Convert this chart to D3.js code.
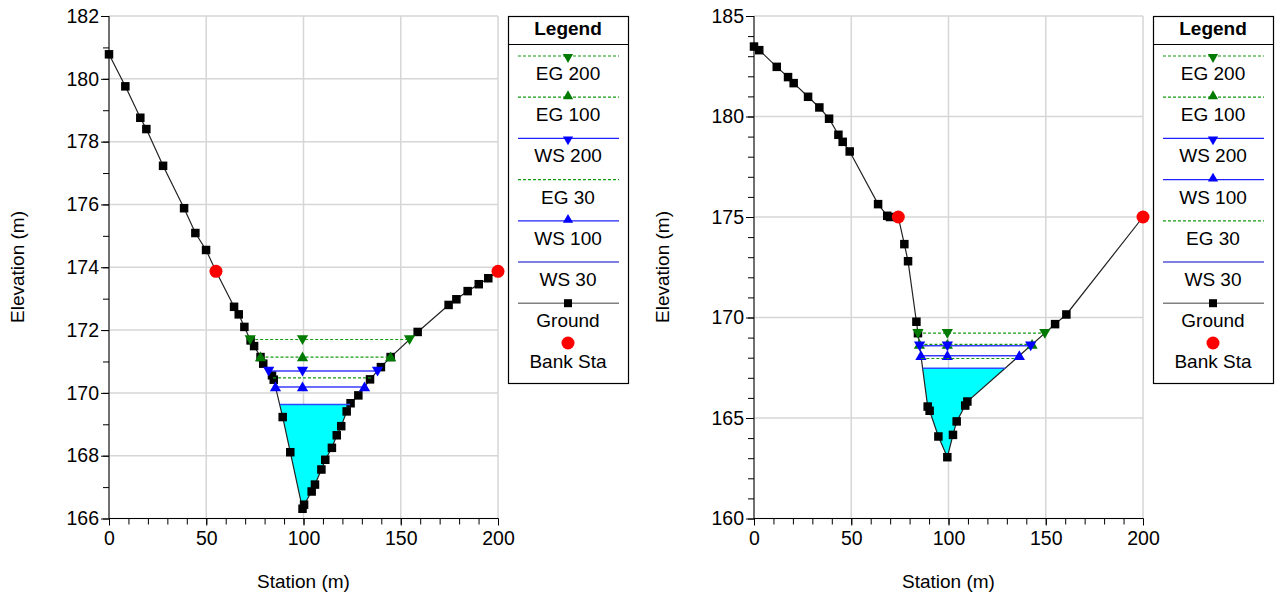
<!DOCTYPE html>
<html><head><meta charset="utf-8">
<script src="https://cdn.jsdelivr.net/npm/d3@7"></script>
<style>
body{margin:0;background:#fff;}
svg text{font-family:"Liberation Sans",Arial,sans-serif;fill:#000;}
</style></head>
<body><svg id="c" width="1275" height="594"></svg>
<script>
// ---------- DATA ----------
const xTicks = [0, 50, 100, 150, 200];

// Left cross-section
const stationL = [0,8.4,16.1,19.2,27.8,38.6,44.4,49.9,55,64.3,66.7,69.6,72.8,74.6,77.9,79.3,83.8,84.7,89.3,93.2,99.5,100.3,104.2,105.9,109.2,111.2,114.6,117.1,119.4,122.2,124.2,128.2,134.2,139.8,144.8,158.7,174.6,178.6,184.4,190.1,195.0,200];
const groundL  = [180.78,179.76,178.76,178.40,177.23,175.88,175.09,174.55,173.87,172.74,172.50,172.10,171.67,171.49,171.14,170.93,170.56,170.42,169.23,168.11,166.31,166.44,166.86,167.08,167.56,167.87,168.25,168.65,168.94,169.41,169.67,169.92,170.43,170.82,171.14,171.94,172.80,172.98,173.24,173.46,173.65,173.87];
const bankStaL = [55, 200];
const bankElL  = [173.87, 173.87];
const yTicksL  = [166,168,170,172,174,176,178,180,182];
const profilesL = ["EG 200","EG 100","WS 200","EG 30","WS 100","WS 30"];
const levelsL   = [171.70, 171.14, 170.70, 170.48, 170.19, 169.63];

// Right cross-section
const stationR = [0,2.7,11.7,17.5,20.4,27.8,33.6,38.6,43.4,45.6,49.2,63.8,68.5,69.9,74.2,77.3,79.2,83.5,84.3,89.3,90.3,94.8,99.4,102.3,104.2,108.6,109.7,154.8,160.6,200];
const groundR  = [183.48,183.30,182.47,181.96,181.66,180.98,180.45,179.89,179.09,178.74,178.26,175.64,175.06,175.0,175.0,173.65,172.80,169.79,169.22,165.57,165.36,164.08,163.05,164.16,164.83,165.62,165.82,169.67,170.15,175.0];
const bankStaR = [74.2, 200];
const bankElR  = [175.0, 175.0];
const yTicksR  = [160,165,170,175,180,185];
const profilesR = ["EG 200","EG 100","WS 200","WS 100","EG 30","WS 30"];
const levelsR   = [169.22, 168.66, 168.60, 168.10, 167.96, 167.48];

// ---------- STYLES ----------
const styles = {
  "EG 200": {stroke:"#139a13", dash:"3,2", width:1.2, marker:"down", fill:"#007a00"},
  "EG 100": {stroke:"#139a13", dash:"3,2", width:1.2, marker:"up",   fill:"#007a00"},
  "WS 200": {stroke:"#3a3aff", dash:null,  width:1.5, marker:"down", fill:"#0000ff"},
  "WS 100": {stroke:"#3a3aff", dash:null,  width:1.5, marker:"up",   fill:"#0000ff"},
  "EG 30":  {stroke:"#139a13", dash:"3,2", width:1.2, marker:null},
  "WS 30":  {stroke:"#2a4cff", dash:null,  width:1.5, marker:null}
};
const legendStyles = {
  "WS 200": "#2020ff", "WS 100": "#2020ff", "WS 30": "#0000c0"
};

const svg = d3.select("#c");

function crossing(st, el, level) {
  let im = d3.minIndex(el);
  let i = im; while (i > 0 && el[i] < level) i--;
  const xl = st[i] + (level - el[i]) * (st[i+1] - st[i]) / (el[i+1] - el[i]);
  let j = im; while (j < el.length - 1 && el[j] < level) j++;
  const xr = st[j-1] + (level - el[j-1]) * (st[j] - st[j-1]) / (el[j] - el[j-1]);
  return {xl, xr, il: i, ir: j, im};
}

function panel(cfg) {
  const x = d3.scaleLinear().domain([0,200]).range([cfg.x0, cfg.x1]);
  const y = d3.scaleLinear().domain(cfg.yDomain).range([518.5, 16]);
  const g = svg.append("g");

  // grid
  g.selectAll(".gx").data(xTicks).join("line")
    .attr("x1", d=>x(d)).attr("x2", d=>x(d)).attr("y1", y.range()[0]).attr("y2", y.range()[1])
    .attr("stroke", "#d6d6d6").attr("stroke-width", 1.5);
  g.selectAll(".gy").data(cfg.yTicks).join("line")
    .attr("x1", x(0)).attr("x2", x(200)).attr("y1", d=>y(d)).attr("y2", d=>y(d))
    .attr("stroke", "#d6d6d6").attr("stroke-width", 1.5);

  // water fill (lowest WS)
  const wsLow = cfg.levels[cfg.profiles.indexOf("WS 30")];
  const c = crossing(cfg.st, cfg.el, wsLow);
  const poly = [[c.xl, wsLow]];
  for (let k = c.il + 1; k < c.ir; k++) poly.push([cfg.st[k], cfg.el[k]]);
  poly.push([c.xr, wsLow]);
  g.append("path").datum(poly)
    .attr("d", d3.line().x(d=>x(d[0])).y(d=>y(d[1])))
    .attr("fill", "#00ffff").attr("stroke", "none");

  // ground line
  g.append("path").datum(cfg.st.map((s,i)=>[s, cfg.el[i]]))
    .attr("d", d3.line().x(d=>x(d[0])).y(d=>y(d[1])))
    .attr("fill", "none").attr("stroke", "#222").attr("stroke-width", 1.2);
  g.selectAll(".sq").data(cfg.st.map((s,i)=>[s, cfg.el[i]])).join("rect")
    .attr("x", d=>x(d[0]) - 4.25).attr("y", d=>y(d[1]) - 4.25)
    .attr("width", 8.5).attr("height", 8.5).attr("fill", "#000");

  // water surface lines
  cfg.profiles.forEach((p, i) => {
    const lv = cfg.levels[i];
    const s = styles[p];
    const cr = crossing(cfg.st, cfg.el, lv);
    g.append("line")
      .attr("x1", x(cr.xl)).attr("x2", x(cr.xr)).attr("y1", y(lv)).attr("y2", y(lv))
      .attr("stroke", s.stroke).attr("stroke-width", s.width)
      .attr("stroke-dasharray", s.dash);
    if (s.marker) {
      const pts = [cr.xl, cfg.st[cr.im], cr.xr];
      g.selectAll(null).data(pts).join("path")
        .attr("d", d3.symbol(d3.symbolTriangle, 55)())
        .attr("transform", d => `translate(${x(d)},${y(lv) + (s.marker==="down" ? -1 : 1)}) rotate(${s.marker==="down"?180:0})`)
        .attr("fill", s.fill);
    }
  });

  // bank stations
  g.selectAll(".bk").data(cfg.bankSt.map((s,i)=>[s, cfg.bankEl[i]])).join("circle")
    .attr("cx", d=>x(d[0])).attr("cy", d=>y(d[1])).attr("r", 6.5).attr("fill", "#ff0000");

  // axes
  const yMinor = d3.range(cfg.yDomain[0], cfg.yDomain[1] + 0.001, 1);
  const yAxis = g.append("g").attr("transform", `translate(${x(0)},0)`)
    .call(d3.axisLeft(y).tickValues(yMinor).tickSize(6).tickFormat(""));
  yAxis.select(".domain").remove();
  const yAxisMaj = g.append("g").attr("transform", `translate(${x(0)},0)`)
    .call(d3.axisLeft(y).tickValues(cfg.yTicks).tickSize(8).tickPadding(2).tickFormat(d3.format("d")));
  yAxisMaj.selectAll("text").attr("font-size", 19.5).attr("fill", "#000");
  yAxisMaj.select(".domain").attr("d", `M0,${y.range()[1]}V${y.range()[0]}`);

  const xMinor = d3.range(0, 201, 10);
  const xAxis = g.append("g").attr("transform", `translate(0,${y.range()[0]})`)
    .call(d3.axisBottom(x).tickValues(xMinor).tickSize(6).tickFormat(""));
  xAxis.select(".domain").remove();
  const xAxisMaj = g.append("g").attr("transform", `translate(0,${y.range()[0]})`)
    .call(d3.axisBottom(x).tickValues(xTicks).tickSize(7).tickPadding(6).tickFormat(d3.format("d")));
  xAxisMaj.selectAll("text").attr("font-size", 19.5).attr("fill", "#000");
  xAxisMaj.select(".domain").attr("d", `M${x(0)},0H${x(200)}`);
  g.selectAll(".tick line").attr("stroke", "#000");
  g.selectAll(".domain").attr("stroke", "#000");

  // axis titles
  g.append("text").attr("x", (x(0)+x(200))/2).attr("y", 581).attr("text-anchor", "middle")
    .attr("dominant-baseline", "central").attr("font-size", 19).text("Station (m)");
  g.append("text").attr("transform", `translate(${cfg.yLabelX},267) rotate(-90)`)
    .attr("text-anchor", "middle").attr("dominant-baseline", "central").attr("font-size", 19).text("Elevation (m)");

  // legend
  const lg = g.append("g");
  const lx0 = cfg.legX0, lx1 = cfg.legX1, cx = (lx0 + lx1) / 2;
  lg.append("rect").attr("x", lx0 + 0.5).attr("y", 16.5).attr("width", lx1 - lx0).attr("height", 367)
    .attr("fill", "#fff").attr("stroke", "#000").attr("stroke-width", 1.2);
  lg.append("line").attr("x1", lx0).attr("x2", lx1 + 1).attr("y1", 44.5).attr("y2", 44.5)
    .attr("stroke", "#000").attr("stroke-width", 1.2);
  lg.append("text").attr("x", cx).attr("y", 28).attr("text-anchor", "middle")
    .attr("dominant-baseline", "central").attr("font-size", 19).attr("font-weight", "bold").text("Legend");

  const items = cfg.legend;
  items.forEach((name, i) => {
    const ly = 56 + i * 41.2;
    const tx = ly + 17.5;
    if (name === "Bank Sta") {
      lg.append("circle").attr("cx", cx).attr("cy", 343).attr("r", 6.5).attr("fill", "#ff0000");
      lg.append("text").attr("x", cx).attr("y", 361).attr("text-anchor", "middle")
        .attr("dominant-baseline", "central").attr("font-size", 19).text(name);
      return;
    }
    if (name === "Ground") {
      lg.append("line").attr("x1", lx0 + 10).attr("x2", lx1 - 9).attr("y1", ly).attr("y2", ly)
        .attr("stroke", "#808080").attr("stroke-width", 1.5);
      lg.append("rect").attr("x", cx - 4).attr("y", ly - 4).attr("width", 8).attr("height", 8).attr("fill", "#000");
    } else {
      const s = styles[name];
      lg.append("line").attr("x1", lx0 + 10).attr("x2", lx1 - 9).attr("y1", ly).attr("y2", ly)
        .attr("stroke", legendStyles[name] || s.stroke).attr("stroke-width", 1.2)
        .attr("stroke-dasharray", s.dash);
      if (s.marker) {
        lg.append("path").attr("d", d3.symbol(d3.symbolTriangle, 45)())
          .attr("transform", `translate(${cx},${ly + (s.marker==="down"?1:-1)}) rotate(${s.marker==="down"?180:0})`)
          .attr("fill", s.fill);
      }
    }
    lg.append("text").attr("x", cx).attr("y", tx).attr("text-anchor", "middle")
      .attr("dominant-baseline", "central").attr("font-size", 19).text(name);
  });
}

panel({x0:109, x1:498, yDomain:[166,182], yTicks:yTicksL, st:stationL, el:groundL,
  bankSt:bankStaL, bankEl:bankElL, profiles:profilesL, levels:levelsL,
  legend:["EG 200","EG 100","WS 200","EG 30","WS 100","WS 30","Ground","Bank Sta"],
  legX0:508, legX1:628, yLabelX:17});
panel({x0:754, x1:1143, yDomain:[160,185], yTicks:yTicksR, st:stationR, el:groundR,
  bankSt:bankStaR, bankEl:bankElR, profiles:profilesR, levels:levelsR,
  legend:["EG 200","EG 100","WS 200","WS 100","EG 30","WS 30","Ground","Bank Sta"],
  legX0:1153, legX1:1273, yLabelX:662});
</script></body></html>
